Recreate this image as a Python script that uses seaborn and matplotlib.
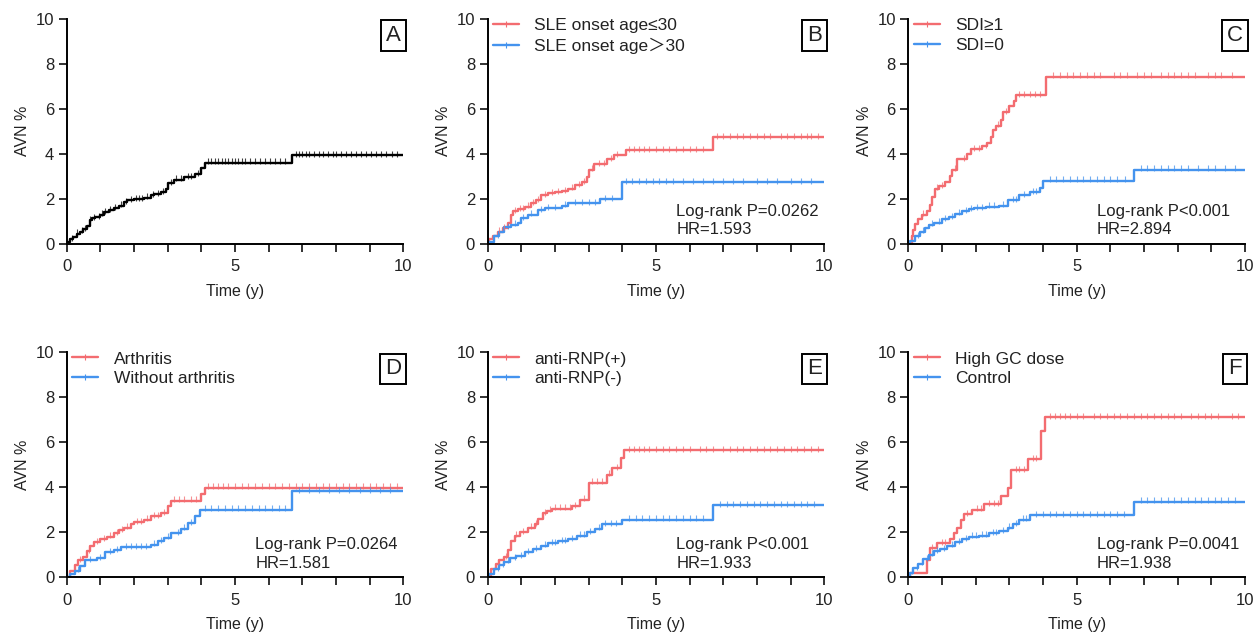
import numpy as np
import pandas as pd
import matplotlib.pyplot as plt
from matplotlib.lines import Line2D
import seaborn as sns

# Cumulative AVN incidence curves (event times in years, cumulative %)
# Panel A - all patients
a_times = [0.05, 0.1, 0.2, 0.3, 0.4, 0.5, 0.6, 0.7, 0.75, 0.85, 1.0, 1.1, 1.25, 1.4, 1.55, 1.7, 1.8, 2.0,
           2.3, 2.5, 2.6, 2.8, 2.95, 3.0, 3.2, 3.5, 3.8, 4.0, 4.1, 6.7]
a_vals = [0.1, 0.2, 0.3, 0.45, 0.55, 0.65, 0.8, 1.05, 1.15, 1.2, 1.3, 1.4, 1.5, 1.6, 1.7, 1.85, 1.95, 2.0,
          2.05, 2.15, 2.2, 2.3, 2.45, 2.7, 2.85, 2.95, 3.1, 3.35, 3.6, 3.95]
a_cens = [0.15, 0.3, 0.45, 0.55, 0.7, 0.8, 0.95, 1.05, 1.15, 1.3, 1.45, 1.6, 1.75, 1.9, 2.05, 2.15, 2.25,
          2.4, 2.55, 2.7, 2.85, 3.1, 3.25, 3.4, 3.6, 3.7, 3.9, 4.2, 4.3, 4.4, 4.5, 4.6, 4.7, 4.8, 4.9, 5.0,
          5.1, 5.2, 5.3, 5.45, 5.6, 5.75, 5.9, 6.05, 6.2, 6.35, 6.5, 6.8, 6.9, 7.0, 7.1, 7.2, 7.35, 7.5,
          7.6, 7.75, 7.9, 8.0, 8.15, 8.3, 8.45, 8.6, 8.75, 8.9, 9.05, 9.2, 9.35, 9.5, 9.65, 9.8]

# Panel B - SLE onset age
b1_times = [0.05, 0.15, 0.3, 0.45, 0.6, 0.7, 0.75, 0.9, 1.1, 1.3, 1.45, 1.6, 1.8, 2.0, 2.2, 2.4, 2.6, 2.8,
            2.95, 3.0, 3.15, 3.55, 3.75, 4.1, 6.7]
b1_vals = [0.2, 0.35, 0.55, 0.7, 0.95, 1.3, 1.45, 1.55, 1.65, 1.8, 1.95, 2.15, 2.25, 2.3, 2.35, 2.45, 2.6,
           2.75, 2.95, 3.3, 3.55, 3.75, 3.95, 4.15, 4.75]
b1_cens = [0.35, 0.5, 0.8, 0.95, 1.05, 1.2, 1.35, 1.5, 1.7, 1.9, 2.1, 2.3, 2.5, 2.7, 2.85, 3.1, 3.3, 3.45,
           3.65, 3.85, 4.2, 4.35, 4.5, 4.65, 4.8, 5.0, 5.2, 5.4, 5.6, 5.8, 6.0, 6.2, 6.4, 6.8, 7.0, 7.2,
           7.4, 7.6, 7.8, 8.0, 8.2, 8.4, 8.7, 8.9, 9.1, 9.3, 9.5, 9.6, 9.8]
b2_times = [0.05, 0.2, 0.35, 0.5, 0.7, 0.9, 1.0, 1.2, 1.5, 1.7, 2.2, 2.4, 3.35, 4.0]
b2_vals = [0.1, 0.35, 0.55, 0.75, 0.85, 0.95, 1.15, 1.3, 1.5, 1.6, 1.7, 1.8, 2.0, 2.75]
b2_cens = [0.3, 0.6, 0.8, 1.05, 1.3, 1.6, 1.8, 2.0, 2.3, 2.6, 2.8, 3.0, 3.2, 3.5, 3.7, 4.1, 4.3, 4.5,
           4.7, 4.9, 5.1, 5.3, 5.5, 5.8, 6.1, 6.4, 6.7, 7.0, 7.3, 7.6, 8.0, 8.3, 8.6, 9.0, 9.3, 9.6]

# Panel C - SDI
c1_times = [0.1, 0.15, 0.2, 0.3, 0.4, 0.55, 0.65, 0.7, 0.8, 0.9, 1.1, 1.25, 1.3, 1.45, 1.75, 1.85, 2.2,
            2.35, 2.45, 2.5, 2.6, 2.75, 2.8, 3.0, 3.15, 3.2, 4.08]
c1_vals = [0.35, 0.6, 0.9, 1.1, 1.3, 1.45, 1.75, 2.1, 2.45, 2.55, 2.75, 3.0, 3.3, 3.75, 4.0, 4.2, 4.35,
           4.5, 4.75, 5.05, 5.25, 5.5, 5.85, 6.1, 6.35, 6.6, 7.42]
c1_cens = [0.45, 0.85, 1.0, 1.4, 1.65, 1.95, 2.1, 2.3, 2.65, 2.9, 3.3, 3.45, 3.6, 3.75, 3.9, 4.3, 4.5,
           4.7, 4.9, 5.1, 5.3, 5.5, 5.7, 6.1, 6.3, 6.5, 6.8, 7.0, 7.2, 7.5, 7.7, 7.9, 8.1, 8.3, 8.5,
           8.9, 9.1, 9.3, 9.6]
c2_times = [0.05, 0.2, 0.35, 0.5, 0.6, 0.75, 1.0, 1.2, 1.4, 1.6, 1.8, 1.95, 2.3, 2.7, 2.95, 3.3, 3.6,
            3.9, 4.0, 6.7]
c2_vals = [0.15, 0.35, 0.55, 0.7, 0.85, 0.95, 1.1, 1.2, 1.35, 1.45, 1.55, 1.6, 1.65, 1.7, 1.95, 2.15,
           2.3, 2.5, 2.8, 3.3]
c2_cens = [0.3, 0.45, 0.7, 0.9, 1.1, 1.3, 1.5, 1.7, 1.85, 2.05, 2.2, 2.4, 2.55, 2.8, 3.1, 3.2, 3.45,
           3.7, 3.8, 4.2, 4.4, 4.6, 4.8, 5.0, 5.2, 5.4, 5.6, 5.8, 6.0, 6.2, 6.45, 6.9, 7.1, 7.3, 7.5,
           7.7, 7.9, 8.1, 8.3, 8.6, 8.9, 9.1, 9.4, 9.7]

# Panel D - arthritis
d1_times = [0.1, 0.25, 0.35, 0.5, 0.6, 0.7, 0.8, 1.0, 1.2, 1.4, 1.55, 1.7, 1.9, 2.0, 2.3, 2.5, 2.8, 3.0,
            3.1, 4.0, 4.1]
d1_vals = [0.3, 0.55, 0.75, 0.9, 1.15, 1.4, 1.55, 1.7, 1.8, 1.95, 2.1, 2.2, 2.35, 2.45, 2.55, 2.7, 2.85,
           3.15, 3.4, 3.7, 3.98]
d1_cens = [0.4, 0.65, 0.9, 1.1, 1.3, 1.5, 1.65, 1.8, 2.1, 2.2, 2.4, 2.6, 2.7, 2.9, 3.2, 3.35, 3.5, 3.7,
           3.85, 4.2, 4.35, 4.5, 4.65, 4.8, 5.0, 5.2, 5.4, 5.6, 5.8, 6.0, 6.2, 6.4, 6.6, 6.8, 7.0, 7.2,
           7.4, 7.6, 7.8, 8.0, 8.2, 8.4, 8.6, 8.8, 9.0, 9.2, 9.4, 9.6, 9.8]
d2_times = [0.1, 0.25, 0.4, 0.55, 0.9, 1.15, 1.4, 1.6, 2.5, 2.7, 2.9, 3.1, 3.4, 3.6, 3.8, 3.95, 6.7]
d2_vals = [0.15, 0.3, 0.5, 0.75, 0.85, 1.1, 1.2, 1.35, 1.45, 1.6, 1.75, 1.95, 2.15, 2.4, 2.7, 3.0, 3.82]
d2_cens = [0.35, 0.7, 1.0, 1.3, 1.5, 1.75, 1.9, 2.05, 2.2, 2.35, 2.6, 2.8, 3.0, 3.3, 3.5, 3.7, 4.1,
           4.3, 4.5, 4.7, 4.9, 5.1, 5.3, 5.5, 5.7, 5.9, 6.1, 6.3, 6.5, 6.9, 7.2, 7.5, 7.8, 8.1, 8.4,
           8.7, 9.0, 9.3, 9.6]

# Panel E - anti-RNP
e1_times = [0.1, 0.25, 0.35, 0.5, 0.6, 0.7, 0.8, 0.95, 1.2, 1.4, 1.5, 1.65, 1.75, 1.9, 2.5, 2.75, 3.0,
            3.55, 3.7, 3.95, 4.05]
e1_vals = [0.35, 0.6, 0.75, 0.9, 1.2, 1.6, 1.85, 2.0, 2.2, 2.35, 2.6, 2.85, 2.95, 3.05, 3.15, 3.45, 4.2,
           4.55, 4.85, 5.3, 5.65]
e1_cens = [0.3, 0.55, 0.85, 1.05, 1.3, 1.45, 1.7, 1.85, 2.0, 2.15, 2.3, 2.45, 2.6, 2.85, 3.1, 3.25,
           3.4, 3.6, 3.85, 4.2, 4.35, 4.5, 4.65, 4.8, 5.0, 5.2, 5.4, 5.6, 5.8, 6.0, 6.3, 6.5, 6.7,
           7.0, 7.2, 7.4, 7.6, 7.8, 8.0, 8.2, 8.4, 8.6, 8.8, 9.0, 9.2, 9.4, 9.6, 9.8]
e2_times = [0.05, 0.2, 0.35, 0.5, 0.65, 0.85, 1.1, 1.35, 1.6, 1.8, 2.1, 2.4, 2.65, 2.95, 3.2, 3.4, 4.0,
            6.7]
e2_vals = [0.15, 0.35, 0.55, 0.7, 0.85, 0.95, 1.1, 1.25, 1.4, 1.5, 1.6, 1.7, 1.85, 2.0, 2.15, 2.35,
           2.55, 3.2]
e2_cens = [0.3, 0.45, 0.6, 0.8, 1.0, 1.2, 1.45, 1.7, 1.9, 2.0, 2.2, 2.3, 2.5, 2.75, 2.85, 3.05, 3.3,
           3.5, 3.65, 3.8, 4.2, 4.4, 4.6, 4.8, 5.0, 5.2, 5.4, 5.6, 5.8, 6.0, 6.2, 6.4, 6.9, 7.1, 7.3,
           7.5, 7.7, 7.9, 8.1, 8.3, 8.5, 8.7, 8.9, 9.1, 9.3, 9.5, 9.7]

# Panel F - glucocorticoid dose
f1_times = [0.05, 0.56, 0.65, 0.85, 1.25, 1.35, 1.45, 1.55, 1.65, 1.9, 2.25, 2.75, 2.95, 3.05, 3.55,
            3.95, 4.05]
f1_vals = [0.2, 0.75, 1.3, 1.5, 1.7, 1.95, 2.2, 2.55, 2.8, 3.0, 3.25, 3.6, 3.95, 4.75, 5.25, 6.5, 7.1]
f1_cens = [0.7, 1.0, 1.1, 1.75, 2.05, 2.15, 2.4, 2.55, 2.65, 3.2, 3.3, 3.45, 3.7, 3.8, 4.2, 4.35, 4.5,
           4.65, 4.8, 5.0, 5.2, 5.5, 5.7, 5.9, 6.1, 6.3, 6.5, 6.7, 6.9, 7.1, 7.3, 7.5, 7.7, 7.9, 8.1,
           8.4, 8.6, 8.8, 9.0, 9.2, 9.6, 9.8]
f2_times = [0.05, 0.15, 0.3, 0.45, 0.6, 0.75, 0.95, 1.15, 1.4, 1.6, 1.8, 2.1, 2.4, 2.7, 2.95, 3.1, 3.3,
            3.6, 6.7]
f2_vals = [0.2, 0.4, 0.6, 0.8, 1.0, 1.15, 1.25, 1.4, 1.55, 1.7, 1.8, 1.85, 1.95, 2.05, 2.2, 2.35, 2.55,
           2.75, 3.35]
f2_cens = [0.1, 0.25, 0.4, 0.55, 0.7, 0.85, 1.05, 1.3, 1.5, 1.7, 1.9, 2.0, 2.2, 2.3, 2.5, 2.6, 2.8,
           3.0, 3.2, 3.4, 3.5, 3.8, 4.0, 4.2, 4.4, 4.6, 4.8, 5.0, 5.2, 5.4, 5.6, 5.8, 6.0, 6.2, 6.4,
           6.9, 7.1, 7.3, 7.5, 7.7, 7.9, 8.1, 8.3, 8.5, 8.7, 8.9, 9.1, 9.3, 9.5, 9.7]

panel_letters = ["A", "B", "C", "D", "E", "F"]
legend_labels = [
    None,
    ["SLE onset age≤30", "SLE onset age＞30"],
    ["SDI≥1", "SDI=0"],
    ["Arthritis", "Without arthritis"],
    ["anti-RNP(+)", "anti-RNP(-)"],
    ["High GC dose", "Control"],
]
logrank_text = [None, "Log-rank P=0.0262", "Log-rank P<0.001", "Log-rank P=0.0264",
                "Log-rank P<0.001", "Log-rank P=0.0041"]
hr_text = [None, "HR=1.593", "HR=2.894", "HR=1.581", "HR=1.933", "HR=1.938"]

curves = [
    [(a_times, a_vals, a_cens)],
    [(b1_times, b1_vals, b1_cens), (b2_times, b2_vals, b2_cens)],
    [(c1_times, c1_vals, c1_cens), (c2_times, c2_vals, c2_cens)],
    [(d1_times, d1_vals, d1_cens), (d2_times, d2_vals, d2_cens)],
    [(e1_times, e1_vals, e1_cens), (e2_times, e2_vals, e2_cens)],
    [(f1_times, f1_vals, f1_cens), (f2_times, f2_vals, f2_cens)],
]

RED = "#F36C70"
BLUE = "#4493EE"
TXT = "#222222"

sns.set_style("ticks")
plt.rcParams["font.family"] = ["Liberation Sans", "Noto Sans CJK SC", "DejaVu Sans"]

fig = plt.figure(figsize=(12.6, 6.36), dpi=100)

lefts = [0.0529, 0.387, 0.7209]
bottoms = [0.6164, 0.0923]
width, height = 0.2672, 0.3545

for i in range(6):
    row, col = divmod(i, 3)
    ax = fig.add_axes([lefts[col], bottoms[row], width, height])

    if len(curves[i]) == 1:
        colors = ["black"]
        names = ["All"]
    else:
        colors = [RED, BLUE]
        names = legend_labels[i]

    # build long-form table for seaborn, with start at 0 and extension to 10 years
    frames = []
    for (t, v, c), name in zip(curves[i], names):
        tt = [0.0] + list(t) + [10.0]
        vv = [0.0] + list(v) + [v[-1]]
        frames.append(pd.DataFrame({"time": tt, "avn": vv, "group": name}))
    df = pd.concat(frames, ignore_index=True)

    sns.lineplot(data=df, x="time", y="avn", hue="group", hue_order=names,
                 palette=colors, drawstyle="steps-post", estimator=None, sort=False,
                 linewidth=1.7, legend=False, ax=ax)

    # censor ticks
    for (t, v, c), color in zip(curves[i], colors):
        t_arr = np.array([0.0] + list(t))
        v_arr = np.array([0.0] + list(v))
        idx = np.searchsorted(t_arr, np.array(c), side="right") - 1
        ax.plot(c, v_arr[idx] + 0.06, linestyle="", marker="|", markersize=5,
                markeredgewidth=0.8, color=color, alpha=0.75)

    ax.set_xlim(0, 10)
    ax.set_ylim(0, 10)
    ax.set_xticks([0, 5, 10])
    ax.set_xticks(range(11), minor=True)
    ax.set_yticks([0, 2, 4, 6, 8, 10])
    ax.tick_params(axis="both", which="both", direction="out", length=6, width=1.3,
                   labelsize=12, colors=TXT)
    ax.tick_params(axis="x", which="major", pad=5)
    ax.tick_params(axis="y", which="major", pad=3)
    for s in ["left", "bottom"]:
        ax.spines[s].set_linewidth(1.4)
        ax.spines[s].set_color("black")
    sns.despine(ax=ax)
    ax.set_xlabel("Time (y)", fontsize=11.5, labelpad=7, color=TXT)
    ax.set_ylabel("AVN %", fontsize=11.5, labelpad=4, color=TXT)

    # panel letter
    ax.text(0.97, 0.924, panel_letters[i], transform=ax.transAxes, ha="center", va="center",
            fontsize=16, color=TXT,
            bbox=dict(boxstyle="square,pad=0.22", fc="white", ec="black", lw=1.4))

    if legend_labels[i] is not None:
        handles = [Line2D([0], [0], color=col_, lw=1.7, marker="|", markersize=5,
                          markeredgewidth=0.8) for col_ in colors]
        ax.legend(handles, legend_labels[i], loc="upper left", bbox_to_anchor=(0.0, 1.025),
                  frameon=False, fontsize=12.5, handlelength=1.5, handletextpad=0.9,
                  labelspacing=0.25, borderaxespad=0.0, borderpad=0.3, labelcolor=TXT)
        ax.text(5.6, 1.45, logrank_text[i], ha="left", va="center", fontsize=12, color=TXT)
        ax.text(5.6, 0.62, hr_text[i], ha="left", va="center", fontsize=12, color=TXT)

fig.savefig("out.png", dpi=100)
